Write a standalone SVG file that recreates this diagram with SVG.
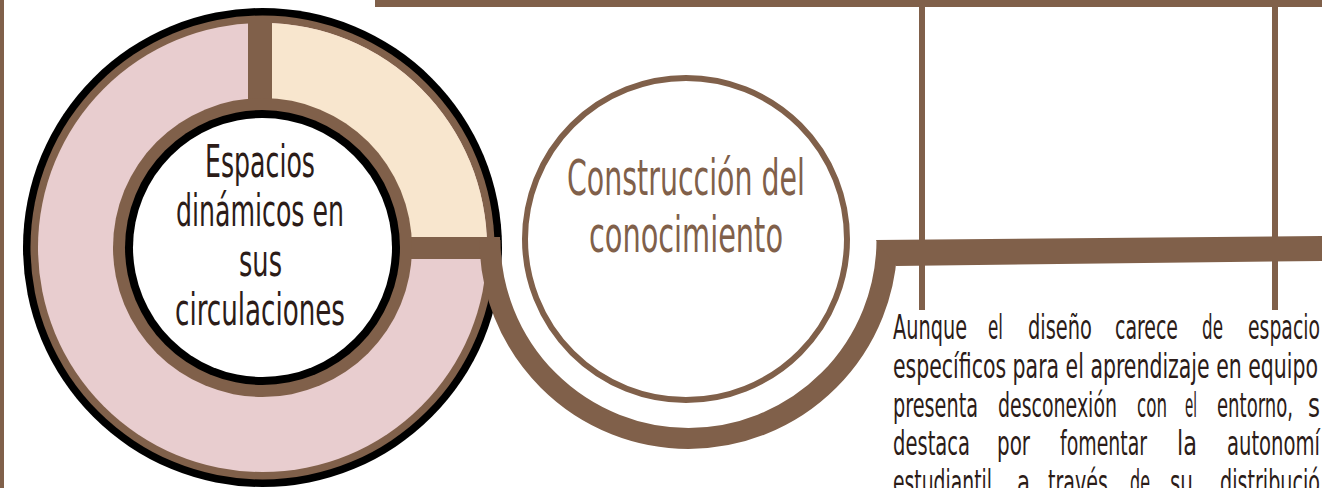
<svg xmlns="http://www.w3.org/2000/svg" width="1322" height="488" viewBox="0 0 1322 488">
<style>
.br{fill:#80604A}
.t{font-family:"DejaVu Sans Condensed","DejaVu Sans",sans-serif;font-stretch:condensed}
.dk{fill:#2C1C18}
.lb{fill:#80604A}
</style>
<rect x="0" y="0" width="1322" height="488" fill="#FFFFFF"/>
<g id="frame">
<rect class="br" x="0" y="0" width="4" height="488"/>
<rect class="br" x="375" y="0" width="947" height="7"/>
<rect class="br" x="919" y="6" width="6" height="304"/>
<rect class="br" x="1272" y="6" width="6" height="304"/>
</g>
<g id="node-espacios">
<circle cx="262.5" cy="247.5" r="239.5" fill="#000000"/>
<circle class="br" cx="262.5" cy="247.5" r="232"/>
<circle cx="262.5" cy="247.5" r="224.5" fill="#E8CDCF"/>
<path d="M262.5,247.5 L262.5,23 A224.5,224.5 0 0 1 487,247.5 Z" fill="#F8E6CE"/>
<rect class="br" x="248" y="16" width="24" height="100"/>
<rect class="br" x="390" y="237" width="110" height="22"/>
<circle class="br" cx="262.5" cy="247.5" r="149.5"/>
<circle cx="262.5" cy="247.5" r="137.5" fill="#000000"/>
<circle cx="262.5" cy="247.5" r="129.5" fill="#FFFFFF"/>
<g class="t dk" font-size="45">
<text x="205" y="177" textLength="110" lengthAdjust="spacingAndGlyphs">Espacios</text>
<text x="176" y="226" textLength="168" lengthAdjust="spacingAndGlyphs">dinámicos en</text>
<text x="239" y="276" textLength="43" lengthAdjust="spacingAndGlyphs">sus</text>
<text x="175" y="325" textLength="170" lengthAdjust="spacingAndGlyphs">circulaciones</text>
</g>
</g>
<g id="connectors">
<path d="M490,240 A198.5,198.5 0 0 0 887,240" fill="none" stroke="#80604A" stroke-width="21"/>
<polygon class="br" points="876,240 1322,236 1322,261 896,266"/>
</g>
<g id="node-construccion">
<circle cx="686" cy="239" r="161" fill="#FFFFFF" stroke="#80604A" stroke-width="6"/>
<g class="t lb" font-size="49">
<text x="567" y="195" textLength="238" lengthAdjust="spacingAndGlyphs">Construcción del</text>
<text x="589" y="252" textLength="194" lengthAdjust="spacingAndGlyphs">conocimiento</text>
</g>
</g>
<g id="node-texto" class="t dk" font-size="33">
<text y="338.5"><tspan x="893" textLength="74" lengthAdjust="spacingAndGlyphs">Aunque</tspan> <tspan x="988" textLength="15" lengthAdjust="spacingAndGlyphs">el</tspan> <tspan x="1028" textLength="64" lengthAdjust="spacingAndGlyphs">diseño</tspan> <tspan x="1115" textLength="63" lengthAdjust="spacingAndGlyphs">carece</tspan> <tspan x="1202" textLength="21" lengthAdjust="spacingAndGlyphs">de</tspan> <tspan x="1248" textLength="72" lengthAdjust="spacingAndGlyphs">espacio</tspan></text>
<text x="893" y="377.5" textLength="425" lengthAdjust="spacingAndGlyphs">específicos para el aprendizaje en equipo</text>
<text y="416.5"><tspan x="893" textLength="85" lengthAdjust="spacingAndGlyphs">presenta</tspan> <tspan x="998" textLength="119" lengthAdjust="spacingAndGlyphs">desconexión</tspan> <tspan x="1137" textLength="30" lengthAdjust="spacingAndGlyphs">con</tspan> <tspan x="1185" textLength="12" lengthAdjust="spacingAndGlyphs">el</tspan> <tspan x="1217" textLength="76" lengthAdjust="spacingAndGlyphs">entorno,</tspan> <tspan x="1308" textLength="12" lengthAdjust="spacingAndGlyphs">s</tspan></text>
<text y="455"><tspan x="893" textLength="77" lengthAdjust="spacingAndGlyphs">destaca</tspan> <tspan x="997" textLength="33" lengthAdjust="spacingAndGlyphs">por</tspan> <tspan x="1060" textLength="87" lengthAdjust="spacingAndGlyphs">fomentar</tspan> <tspan x="1177" textLength="20" lengthAdjust="spacingAndGlyphs">la</tspan> <tspan x="1227" textLength="93" lengthAdjust="spacingAndGlyphs">autonomí</tspan></text>
<text y="493.5"><tspan x="893" textLength="99" lengthAdjust="spacingAndGlyphs">estudiantil</tspan> <tspan x="1017" textLength="13" lengthAdjust="spacingAndGlyphs">a</tspan> <tspan x="1048" textLength="60" lengthAdjust="spacingAndGlyphs">través</tspan> <tspan x="1130" textLength="20" lengthAdjust="spacingAndGlyphs">de</tspan> <tspan x="1170" textLength="23" lengthAdjust="spacingAndGlyphs">su</tspan> <tspan x="1220" textLength="100" lengthAdjust="spacingAndGlyphs">distribució</tspan></text>
</g>
</svg>
